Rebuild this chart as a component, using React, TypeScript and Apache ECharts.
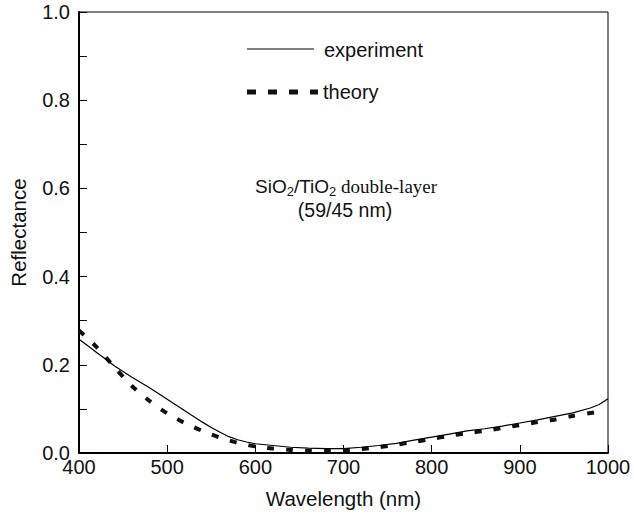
import React, { useEffect, useRef } from "react";
import * as echarts from "echarts";

const xTicks = [400, 500, 600, 700, 800, 900, 1000];
const yTicks = [0, 0.2, 0.4, 0.6, 0.8, 1.0];

const expWavelength = [400, 410, 420, 430, 440, 450, 460, 470, 480, 490, 500, 510, 520, 530, 540, 550, 560, 570, 580, 590, 600, 620, 640, 660, 680, 700, 720, 740, 760, 780, 800, 820, 840, 860, 880, 900, 920, 940, 960, 980, 990, 1000];
const expReflectance = [0.258, 0.243, 0.228, 0.213, 0.198, 0.185, 0.172, 0.160, 0.148, 0.135, 0.122, 0.109, 0.096, 0.083, 0.070, 0.058, 0.047, 0.037, 0.030, 0.025, 0.021, 0.017, 0.013, 0.011, 0.010, 0.010, 0.013, 0.017, 0.022, 0.029, 0.036, 0.043, 0.050, 0.055, 0.061, 0.068, 0.075, 0.083, 0.091, 0.102, 0.110, 0.123];

const theoWavelength = [400, 420, 440, 460, 480, 500, 520, 540, 560, 580, 600, 620, 640, 660, 680, 700, 720, 740, 760, 780, 800, 820, 840, 860, 880, 900, 920, 940, 960, 985];
const theoReflectance = [0.278, 0.240, 0.195, 0.152, 0.118, 0.090, 0.068, 0.050, 0.035, 0.023, 0.015, 0.010, 0.007, 0.005, 0.005, 0.006, 0.009, 0.013, 0.019, 0.025, 0.032, 0.039, 0.045, 0.050, 0.057, 0.063, 0.070, 0.076, 0.084, 0.092];

const legendLabels = ["experiment", "theory"];

const SANS = "Liberation Sans, Arial, Helvetica, sans-serif";
const SERIF = "Liberation Serif, Times New Roman, serif";

export default function App() {
  const ref = useRef<HTMLDivElement>(null);
  useEffect(() => {
    if (!ref.current) return;
    document.body.style.margin = "0";
    const chart = echarts.init(ref.current, null, { renderer: "svg" });
    const expData = expWavelength.map((x, i) => [x, expReflectance[i]]);
    const theoData = theoWavelength.map((x, i) => [x, theoReflectance[i]]);
    chart.setOption({
      animation: false,
      backgroundColor: "#fff",
      grid: {
        left: 79,
        right: 26,
        top: 12,
        bottom: 64,
        show: true,
        borderColor: "#000",
        borderWidth: 1,
      },
      xAxis: {
        type: "value",
        min: xTicks[0],
        max: xTicks[xTicks.length - 1],
        interval: 100,
        name: "Wavelength (nm)",
        nameLocation: "middle",
        nameGap: 35,
        nameTextStyle: { fontFamily: SANS, fontSize: 20.5, color: "#111" },
        axisLine: { show: true, lineStyle: { color: "#000", width: 2 } },
        axisTick: { show: true, inside: true, length: 8, lineStyle: { color: "#000", width: 1 } },
        axisLabel: {
          margin: 4,
          fontFamily: SANS,
          fontSize: 20,
          color: "#111",
          formatter: (v: number) => String(v),
        },
        splitLine: { show: false },
      },
      yAxis: {
        type: "value",
        min: yTicks[0],
        max: yTicks[yTicks.length - 1],
        interval: 0.2,
        name: "Reflectance",
        nameLocation: "middle",
        nameGap: 50,
        nameTextStyle: { fontFamily: SANS, fontSize: 20.5, color: "#111" },
        axisLine: { show: true, lineStyle: { color: "#000", width: 2 } },
        axisTick: { show: true, inside: true, length: 8, lineStyle: { color: "#000", width: 1 } },
        minorTick: { show: true, splitNumber: 2, length: 8, lineStyle: { color: "#000", width: 1 } },
        axisLabel: {
          margin: 9,
          fontFamily: SANS,
          fontSize: 20,
          color: "#111",
          formatter: (v: number) => v.toFixed(1),
        },
        splitLine: { show: false },
      },
      series: [
        {
          name: legendLabels[0],
          type: "line",
          data: expData,
          showSymbol: false,
          symbol: "none",
          lineStyle: { color: "#000", width: 1.2 },
          z: 3,
        },
        {
          name: legendLabels[1],
          type: "line",
          data: theoData,
          showSymbol: false,
          symbol: "none",
          smooth: 0.3,
          lineStyle: { color: "#111", width: 4, type: [7, 12] },
          z: 2,
        },
      ],
      graphic: [
        {
          type: "line",
          shape: { x1: 247, y1: 49, x2: 314, y2: 49 },
          style: { stroke: "#000", lineWidth: 1.2 },
        },
        {
          type: "text",
          x: 324,
          y: 50,
          style: {
            text: legendLabels[0],
            fontFamily: SANS,
            fontSize: 20,
            fill: "#111",
            textVerticalAlign: "middle",
          },
        },
        {
          type: "line",
          shape: { x1: 247, y1: 92, x2: 318, y2: 92 },
          style: { stroke: "#111", lineWidth: 5, lineDash: [9, 12] },
        },
        {
          type: "text",
          x: 323,
          y: 92,
          style: {
            text: legendLabels[1],
            fontFamily: SANS,
            fontSize: 20,
            fill: "#111",
            textVerticalAlign: "middle",
          },
        },
        {
          type: "text",
          x: 255,
          y: 186,
          style: {
            text: "{a|SiO}{s|2}{a|/TiO}{s|2}{b| double-layer}",
            textVerticalAlign: "middle",
            fill: "#111",
            rich: {
              a: { fontFamily: SANS, fontSize: 19, lineHeight: 23, fill: "#111" },
              s: { fontFamily: SANS, fontSize: 13, lineHeight: 11, verticalAlign: "bottom", fill: "#111" },
              b: { fontFamily: SERIF, fontSize: 19, lineHeight: 23, fill: "#111" },
            },
          },
        },
        {
          type: "text",
          x: 345,
          y: 210,
          style: {
            text: "(59/45 nm)",
            fontFamily: SANS,
            fontSize: 19.5,
            fill: "#111",
            textAlign: "center",
            textVerticalAlign: "middle",
          },
        },
      ],
    });
    return () => chart.dispose();
  }, []);
  return (
    <div
      ref={ref}
      style={{ position: "absolute", left: 0, top: 0, width: 634, height: 517 }}
    />
  );
}
